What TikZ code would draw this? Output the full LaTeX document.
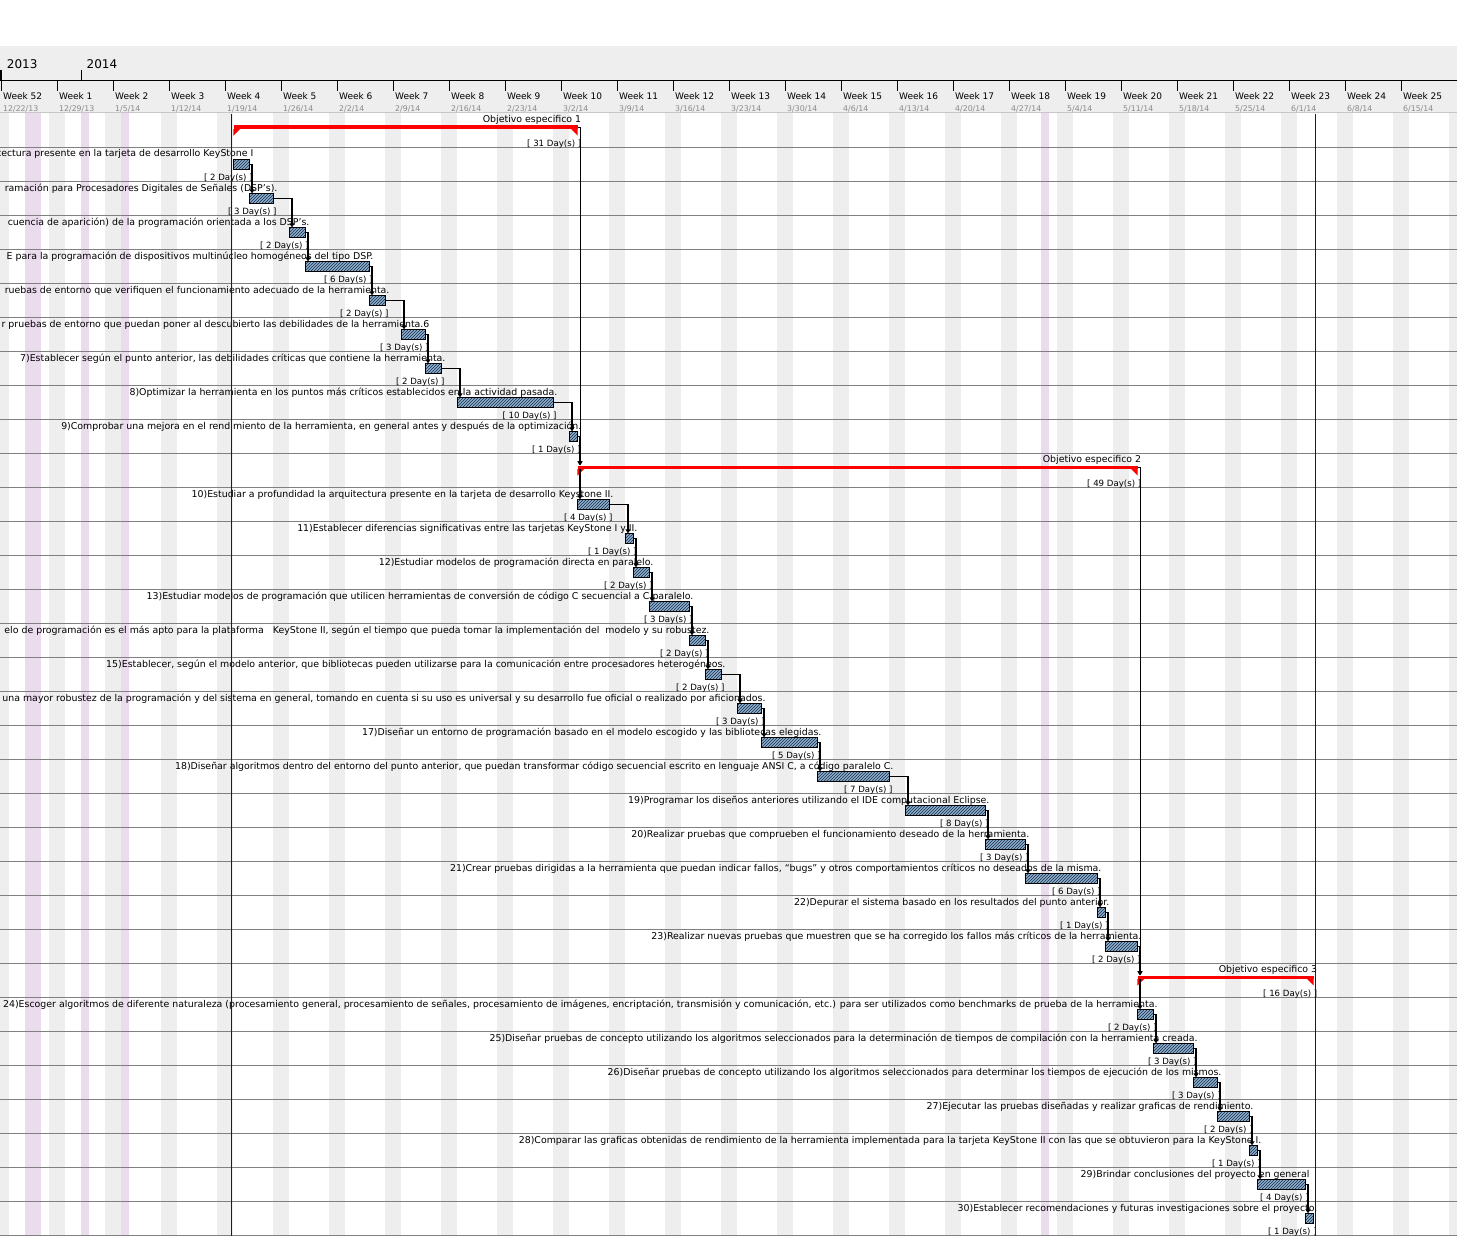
\documentclass[tikz,border=0pt]{standalone}
\usepackage{fontspec}
\setmainfont{DejaVu Sans}
\usetikzlibrary{positioning,arrows.meta,patterns,calc}

\definecolor{hdrgrey}{HTML}{EEEEEE}
\definecolor{wkendgrey}{HTML}{EEEEEE}
\definecolor{holipink}{HTML}{EADCEC}
\definecolor{rowgrey}{HTML}{808080}
\definecolor{dategrey}{HTML}{8A8A8A}
\definecolor{barblue}{HTML}{8CB0D0}
\definecolor{barhatch}{HTML}{1C2B45}
\definecolor{todayblue}{HTML}{0000FF}

\begin{document}
\begin{tikzpicture}[
    x=1pt, y=-1pt,
    taskbar/.style={rectangle, draw=black, line width=0.8pt, inner sep=0pt, minimum height=10pt, minimum width=#1, anchor=north west, preaction={fill=barblue}, pattern=north east lines, pattern color=barhatch},
    objbar/.style={rectangle, fill=red, inner sep=0pt, minimum height=3.5pt, minimum width=#1, anchor=north west},
    tasklbl/.style={anchor=base east, inner sep=0pt, font=\fontsize{9.4}{11}\selectfont},
    durlbl/.style={anchor=base east, inner sep=0pt, font=\fontsize{8.6}{10}\selectfont},
    weeklbl/.style={anchor=base west, inner sep=0pt, font=\fontsize{9}{10}\selectfont},
    datelbl/.style={anchor=base west, inner sep=0pt, text=dategrey, font=\fontsize{7.8}{9}\selectfont},
    yearlbl/.style={anchor=base west, inner sep=0pt, font=\fontsize{12}{14}\selectfont},
    dep/.style={-{Triangle[length=4pt,width=5pt]}, line width=1.1pt},
    objdep/.style={dep, line width=0.8pt},
  ]

  \useasboundingbox (0,0) rectangle (1457,1236);
  \clip (0,0) rectangle (1457,1236);

  % time scale header
  \fill[hdrgrey] (0,46) rectangle (1457,113);
  \foreach \k in {0,...,26}
    \fill[wkendgrey] ({56*\k-6.7},113) rectangle ({56*\k+9.3},1236);
  \foreach \a/\b in {25.3/41.3, 81.3/89.3, 121.3/129.3, 1041.3/1049.3}
    \fill[holipink] (\a,113) rectangle (\b,1236);
  \draw[black!22] (0,112.5) -- (1457,112.5);
  \foreach \k in {0,...,32}
    \draw[rowgrey] (0,{147.3+34*\k}) -- (1457,{147.3+34*\k});
  \draw[line width=0.8pt] (0,80.7) -- (1457,80.7);
  \draw[line width=1.6pt] (1,70) -- (1,80.7);
  \draw (81.3,70) -- (81.3,80.7);
  \node[yearlbl] (y13) at (6.7,68.3) {2013};
  \node[yearlbl] (y14) at (86.5,68.3) {2014};
  \foreach \dt [count=\k from 0] in {12/22/13,12/29/13,1/5/14,1/12/14,1/19/14,1/26/14,2/2/14,2/9/14,2/16/14,2/23/14,3/2/14,3/9/14,3/16/14,3/23/14,3/30/14,4/6/14,4/13/14,4/20/14,4/27/14,5/4/14,5/11/14,5/18/14,5/25/14,6/1/14,6/8/14,6/15/14} {
    \draw ({1.3+56*\k},80.7) -- ({1.3+56*\k},90.7);
    \node[weeklbl] (wk\k) at ({3+56*\k},100) {Week \ifnum\k=0 52\else\k\fi};
    \node[datelbl] (dt\k) at ({3+56*\k},111.5) {\dt};
  }

  % Objetivo 1
  \node[objbar=344pt] (o1) at (233.3,125.3) {};
  \node[tasklbl] (lo1) at ([xshift=3.7pt,yshift=3pt]o1.north east) {Objetivo especifico 1};
  \node[durlbl] (do1) at ([xshift=3.7pt,yshift=-17.5pt]o1.south east) {[ 31 Day(s) ]};

  \node[taskbar=16pt] (t1) at (233.3,159.3) {};
  \node[tasklbl] (l1) at ([xshift=3.5pt,yshift=2.3pt]t1.north east) {tectura presente en la tarjeta de desarrollo KeyStone I};
  \node[durlbl] (d1) at ([xshift=2.7pt,yshift=-10.3pt]t1.south east) {[ 2 Day(s) ]};

  \node[taskbar=24pt] (t2) at (249.3,193.3) {};
  \node[tasklbl] (l2) at ([xshift=3.5pt,yshift=2.3pt]t2.north east) {ramación para Procesadores Digitales de Señales (DSP’s).};
  \node[durlbl] (d2) at ([xshift=2.7pt,yshift=-10.3pt]t2.south east) {[ 3 Day(s) ]};

  \node[taskbar=16pt] (t3) at (289.3,227.3) {};
  \node[tasklbl] (l3) at ([xshift=3.5pt,yshift=2.3pt]t3.north east) {cuencia de aparición) de la programación orientada a los DSP’s.};
  \node[durlbl] (d3) at ([xshift=2.7pt,yshift=-10.3pt]t3.south east) {[ 2 Day(s) ]};

  \node[taskbar=64pt] (t4) at (305.3,261.3) {};
  \node[tasklbl] (l4) at ([xshift=3.5pt,yshift=2.3pt]t4.north east) {E para la programación de dispositivos multinúcleo homogéneos del tipo DSP.};
  \node[durlbl] (d4) at ([xshift=2.7pt,yshift=-10.3pt]t4.south east) {[ 6 Day(s) ]};

  \node[taskbar=16pt] (t5) at (369.3,295.3) {};
  \node[tasklbl] (l5) at ([xshift=3.5pt,yshift=2.3pt]t5.north east) {ruebas de entorno que verifiquen el funcionamiento adecuado de la herramienta.};
  \node[durlbl] (d5) at ([xshift=2.7pt,yshift=-10.3pt]t5.south east) {[ 2 Day(s) ]};

  \node[taskbar=24pt] (t6) at (401.3,329.3) {};
  \node[tasklbl] (l6) at ([xshift=3.5pt,yshift=2.3pt]t6.north east) {r pruebas de entorno que puedan poner al descubierto las debilidades de la herramienta.6};
  \node[durlbl] (d6) at ([xshift=2.7pt,yshift=-10.3pt]t6.south east) {[ 3 Day(s) ]};

  \node[taskbar=16pt] (t7) at (425.3,363.3) {};
  \node[tasklbl] (l7) at ([xshift=3.5pt,yshift=2.3pt]t7.north east) {7)Establecer según el punto anterior, las debilidades críticas que contiene la herramienta.};
  \node[durlbl] (d7) at ([xshift=2.7pt,yshift=-10.3pt]t7.south east) {[ 2 Day(s) ]};

  \node[taskbar=96pt] (t8) at (457.3,397.3) {};
  \node[tasklbl] (l8) at ([xshift=3.5pt,yshift=2.3pt]t8.north east) {8)Optimizar la herramienta en los puntos más críticos establecidos en la actividad pasada.};
  \node[durlbl] (d8) at ([xshift=2.7pt,yshift=-10.3pt]t8.south east) {[ 10 Day(s) ]};

  \node[taskbar=8pt] (t9) at (569.3,431.3) {};
  \node[tasklbl] (l9) at ([xshift=3.5pt,yshift=2.3pt]t9.north east) {9)Comprobar una mejora en el rendimiento de la herramienta, en general antes y después de la optimización.};
  \node[durlbl] (d9) at ([xshift=2.7pt,yshift=-10.3pt]t9.south east) {[ 1 Day(s) ]};

  % Objetivo 2
  \node[objbar=560pt] (o2) at (577.3,465.3) {};
  \node[tasklbl] (lo2) at ([xshift=3.7pt,yshift=3pt]o2.north east) {Objetivo especifico 2};
  \node[durlbl] (do2) at ([xshift=3.7pt,yshift=-17.5pt]o2.south east) {[ 49 Day(s) ]};

  \node[taskbar=32pt] (t10) at (577.3,499.3) {};
  \node[tasklbl] (l10) at ([xshift=3.5pt,yshift=2.3pt]t10.north east) {10)Estudiar a profundidad la arquitectura presente en la tarjeta de desarrollo Keystone II.};
  \node[durlbl] (d10) at ([xshift=2.7pt,yshift=-10.3pt]t10.south east) {[ 4 Day(s) ]};

  \node[taskbar=8pt] (t11) at (625.3,533.3) {};
  \node[tasklbl] (l11) at ([xshift=3.5pt,yshift=2.3pt]t11.north east) {11)Establecer diferencias significativas entre las tarjetas KeyStone I y II.};
  \node[durlbl] (d11) at ([xshift=2.7pt,yshift=-10.3pt]t11.south east) {[ 1 Day(s) ]};

  \node[taskbar=16pt] (t12) at (633.3,567.3) {};
  \node[tasklbl] (l12) at ([xshift=3.5pt,yshift=2.3pt]t12.north east) {12)Estudiar modelos de programación directa en paralelo.};
  \node[durlbl] (d12) at ([xshift=2.7pt,yshift=-10.3pt]t12.south east) {[ 2 Day(s) ]};

  \node[taskbar=40pt] (t13) at (649.3,601.3) {};
  \node[tasklbl] (l13) at ([xshift=3.5pt,yshift=2.3pt]t13.north east) {13)Estudiar modelos de programación que utilicen herramientas de conversión de código C secuencial a C paralelo.};
  \node[durlbl] (d13) at ([xshift=2.7pt,yshift=-10.3pt]t13.south east) {[ 3 Day(s) ]};

  \node[taskbar=16pt] (t14) at (689.3,635.3) {};
  \node[tasklbl] (l14) at ([xshift=3.5pt,yshift=2.3pt]t14.north east) {elo de programación es el más apto para la plataforma\ \ \ KeyStone II, según el tiempo que pueda tomar la implementación del\ \ modelo y su robustez.};
  \node[durlbl] (d14) at ([xshift=2.7pt,yshift=-10.3pt]t14.south east) {[ 2 Day(s) ]};

  \node[taskbar=16pt] (t15) at (705.3,669.3) {};
  \node[tasklbl] (l15) at ([xshift=3.5pt,yshift=2.3pt]t15.north east) {15)Establecer, según el modelo anterior, que bibliotecas pueden utilizarse para la comunicación entre procesadores heterogéneos.};
  \node[durlbl] (d15) at ([xshift=2.7pt,yshift=-10.3pt]t15.south east) {[ 2 Day(s) ]};

  \node[taskbar=24pt] (t16) at (737.3,703.3) {};
  \node[tasklbl] (l16) at ([xshift=3.5pt,yshift=2.3pt]t16.north east) {una mayor robustez de la programación y del sistema en general, tomando en cuenta si su uso es universal y su desarrollo fue oficial o realizado por aficionados.};
  \node[durlbl] (d16) at ([xshift=2.7pt,yshift=-10.3pt]t16.south east) {[ 3 Day(s) ]};

  \node[taskbar=56pt] (t17) at (761.3,737.3) {};
  \node[tasklbl] (l17) at ([xshift=3.5pt,yshift=2.3pt]t17.north east) {17)Diseñar un entorno de programación basado en el modelo escogido y las bibliotecas elegidas.};
  \node[durlbl] (d17) at ([xshift=2.7pt,yshift=-10.3pt]t17.south east) {[ 5 Day(s) ]};

  \node[taskbar=72pt] (t18) at (817.3,771.3) {};
  \node[tasklbl] (l18) at ([xshift=3.5pt,yshift=2.3pt]t18.north east) {18)Diseñar algoritmos dentro del entorno del punto anterior, que puedan transformar código secuencial escrito en lenguaje ANSI C, a código paralelo C.};
  \node[durlbl] (d18) at ([xshift=2.7pt,yshift=-10.3pt]t18.south east) {[ 7 Day(s) ]};

  \node[taskbar=80pt] (t19) at (905.3,805.3) {};
  \node[tasklbl] (l19) at ([xshift=3.5pt,yshift=2.3pt]t19.north east) {19)Programar los diseños anteriores utilizando el IDE computacional Eclipse.};
  \node[durlbl] (d19) at ([xshift=2.7pt,yshift=-10.3pt]t19.south east) {[ 8 Day(s) ]};

  \node[taskbar=40pt] (t20) at (985.3,839.3) {};
  \node[tasklbl] (l20) at ([xshift=3.5pt,yshift=2.3pt]t20.north east) {20)Realizar pruebas que comprueben el funcionamiento deseado de la herramienta.};
  \node[durlbl] (d20) at ([xshift=2.7pt,yshift=-10.3pt]t20.south east) {[ 3 Day(s) ]};

  \node[taskbar=72pt] (t21) at (1025.3,873.3) {};
  \node[tasklbl] (l21) at ([xshift=3.5pt,yshift=2.3pt]t21.north east) {21)Crear pruebas dirigidas a la herramienta que puedan indicar fallos, “bugs” y otros comportamientos críticos no deseados de la misma.};
  \node[durlbl] (d21) at ([xshift=2.7pt,yshift=-10.3pt]t21.south east) {[ 6 Day(s) ]};

  \node[taskbar=8pt] (t22) at (1097.3,907.3) {};
  \node[tasklbl] (l22) at ([xshift=3.5pt,yshift=2.3pt]t22.north east) {22)Depurar el sistema basado en los resultados del punto anterior.};
  \node[durlbl] (d22) at ([xshift=2.7pt,yshift=-10.3pt]t22.south east) {[ 1 Day(s) ]};

  \node[taskbar=32pt] (t23) at (1105.3,941.3) {};
  \node[tasklbl] (l23) at ([xshift=3.5pt,yshift=2.3pt]t23.north east) {23)Realizar nuevas pruebas que muestren que se ha corregido los fallos más críticos de la herramienta.};
  \node[durlbl] (d23) at ([xshift=2.7pt,yshift=-10.3pt]t23.south east) {[ 2 Day(s) ]};

  % Objetivo 3
  \node[objbar=176pt] (o3) at (1137.3,975.3) {};
  \node[tasklbl] (lo3) at ([xshift=3.7pt,yshift=3pt]o3.north east) {Objetivo especifico 3};
  \node[durlbl] (do3) at ([xshift=3.7pt,yshift=-17.5pt]o3.south east) {[ 16 Day(s) ]};

  \node[taskbar=16pt] (t24) at (1137.3,1009.3) {};
  \node[tasklbl] (l24) at ([xshift=3.5pt,yshift=2.3pt]t24.north east) {24)Escoger algoritmos de diferente naturaleza (procesamiento general, procesamiento de señales, procesamiento de imágenes, encriptación, transmisión y comunicación, etc.) para ser utilizados como benchmarks de prueba de la herramienta.};
  \node[durlbl] (d24) at ([xshift=2.7pt,yshift=-10.3pt]t24.south east) {[ 2 Day(s) ]};

  \node[taskbar=40pt] (t25) at (1153.3,1043.3) {};
  \node[tasklbl] (l25) at ([xshift=3.5pt,yshift=2.3pt]t25.north east) {25)Diseñar pruebas de concepto utilizando los algoritmos seleccionados para la determinación de tiempos de compilación con la herramienta creada.};
  \node[durlbl] (d25) at ([xshift=2.7pt,yshift=-10.3pt]t25.south east) {[ 3 Day(s) ]};

  \node[taskbar=24pt] (t26) at (1193.3,1077.3) {};
  \node[tasklbl] (l26) at ([xshift=3.5pt,yshift=2.3pt]t26.north east) {26)Diseñar pruebas de concepto utilizando los algoritmos seleccionados para determinar los tiempos de ejecución de los mismos.};
  \node[durlbl] (d26) at ([xshift=2.7pt,yshift=-10.3pt]t26.south east) {[ 3 Day(s) ]};

  \node[taskbar=32pt] (t27) at (1217.3,1111.3) {};
  \node[tasklbl] (l27) at ([xshift=3.5pt,yshift=2.3pt]t27.north east) {27)Ejecutar las pruebas diseñadas y realizar graficas de rendimiento.};
  \node[durlbl] (d27) at ([xshift=2.7pt,yshift=-10.3pt]t27.south east) {[ 2 Day(s) ]};

  \node[taskbar=8pt] (t28) at (1249.3,1145.3) {};
  \node[tasklbl] (l28) at ([xshift=3.5pt,yshift=2.3pt]t28.north east) {28)Comparar las graficas obtenidas de rendimiento de la herramienta implementada para la tarjeta KeyStone II con las que se obtuvieron para la KeyStone I.};
  \node[durlbl] (d28) at ([xshift=2.7pt,yshift=-10.3pt]t28.south east) {[ 1 Day(s) ]};

  \node[taskbar=48pt] (t29) at (1257.3,1179.3) {};
  \node[tasklbl] (l29) at ([xshift=3.5pt,yshift=2.3pt]t29.north east) {29)Brindar conclusiones del proyecto en general};
  \node[durlbl] (d29) at ([xshift=2.7pt,yshift=-10.3pt]t29.south east) {[ 4 Day(s) ]};

  \node[taskbar=8pt] (t30) at (1305.3,1213.3) {};
  \node[tasklbl] (l30) at ([xshift=3.5pt,yshift=2.3pt]t30.north east) {30)Establecer recomendaciones y futuras investigaciones sobre el proyecto.};
  \node[durlbl] (d30) at ([xshift=2.7pt,yshift=-10.3pt]t30.south east) {[ 1 Day(s) ]};

  % summary bar ends
  \foreach \o in {o1,o2,o3} {
    \fill[red] (\o.south west) -- ++(6.5,0) -- ++(-6.5,6.5) -- cycle;
    \fill[red] (\o.south east) -- ++(-6.5,0) -- ++(6.5,6.5) -- cycle;
  }

  % dependencies
  \foreach \a/\b in {t1/t2,t2/t3,t3/t4,t4/t5,t5/t6,t6/t7,t7/t8,t8/t9,t9/o2,
      t10/t11,t11/t12,t12/t13,t13/t14,t14/t15,t15/t16,t16/t17,t17/t18,t18/t19,
      t19/t20,t20/t21,t21/t22,t22/t23,t23/o3,
      t24/t25,t25/t26,t26/t27,t27/t28,t28/t29,t29/t30}
    \draw[dep] (\a.east) -| ([xshift=2.7pt]\b.north west);
  \draw[objdep] (o1.east) -| ([xshift=2.7pt]o2.north west);
  \draw[objdep] (o2.east) -| ([xshift=2.7pt]o3.north west);
  \draw[dep] ([xshift=2.7pt]o2.south west) -- ([xshift=2.7pt]t10.north west);
  \draw[dep] ([xshift=2.7pt]o3.south west) -- ([xshift=2.7pt]t24.north west);

  % today / end markers
  \draw[todayblue] (231.3,114) -- (231.3,1236);
  \draw[todayblue] (1315.3,114) -- (1315.3,1236);

\end{tikzpicture}
\end{document}
